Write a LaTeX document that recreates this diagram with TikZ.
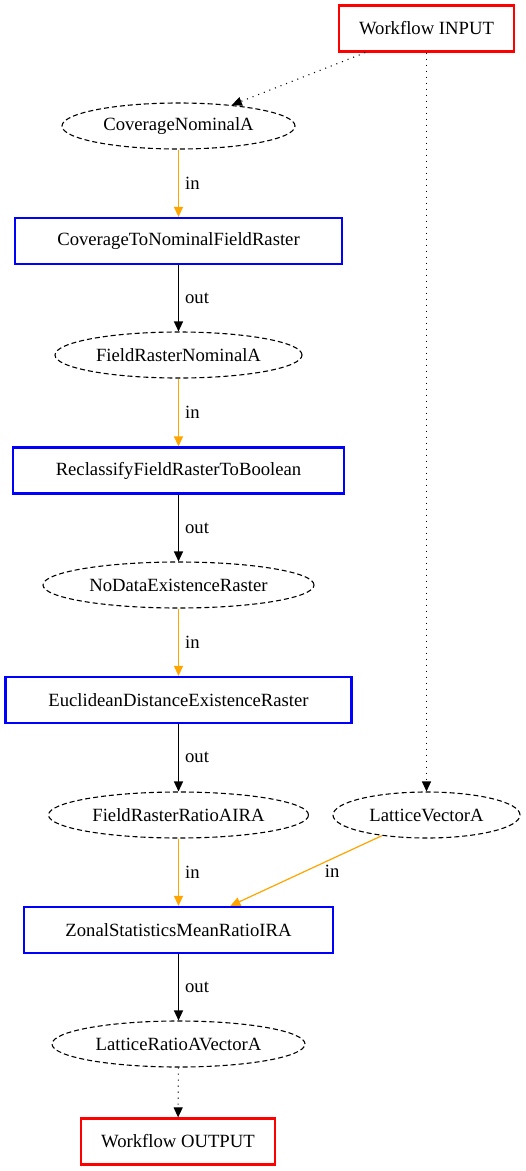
\documentclass[tikz,border=0pt]{standalone}
\usepackage{fontspec}
\setmainfont{Liberation Serif}
\usetikzlibrary{arrows.meta,shapes.geometric}
\definecolor{flowred}{RGB}{255,0,0}
\definecolor{stepblue}{RGB}{0,0,255}
\definecolor{inorange}{RGB}{255,165,0}
\tikzset{
  txt/.style={font=\fontsize{18.67}{22}\selectfont, inner sep=0pt},
  iobox/.style={txt, draw=flowred, line width=2.2pt, rectangle, minimum height=46pt},
  stepbox/.style={txt, draw=stepblue, line width=2.2pt, rectangle, minimum height=46pt},
  datanode/.style={txt, draw=black, line width=1.1pt, ellipse, dash pattern=on 5pt off 3pt, minimum height=46pt},
  tip/.style={-{Triangle[length=10pt,width=9pt]}},
  flowin/.style={tip, draw=inorange, fill=inorange, line width=1.2pt},
  flowout/.style={tip, draw=black, line width=1.2pt},
  ioflow/.style={tip, draw=black, line width=1.1pt, dash pattern=on 1pt off 5pt},
  lbl/.style={txt, anchor=west, xshift=6pt}
}
\begin{document}
\begin{tikzpicture}[x=1pt,y=-1pt]
\useasboundingbox (0,0) rectangle (526,1171);

% nodes
\node[iobox, minimum width=175pt] (input) at (426.5,28.5) {Workflow INPUT};
\node[datanode, minimum width=233pt] (cna) at (178.5,126) {CoverageNominalA};
\node[stepbox, minimum width=327pt] (ctnfr) at (178.5,241) {CoverageToNominalFieldRaster};
\node[datanode, minimum width=247pt] (frna) at (178.5,355) {FieldRasterNominalA};
\node[stepbox, minimum width=331pt] (rfrtb) at (178.5,470.5) {ReclassifyFieldRasterToBoolean};
\node[datanode, minimum width=271pt] (nder) at (178.5,585) {NoDataExistenceRaster};
\node[stepbox, minimum width=346pt] (eder) at (178.5,700) {EuclideanDistanceExistenceRaster};
\node[datanode, minimum width=260pt] (frra) at (178.5,815) {FieldRasterRatioAIRA};
\node[datanode, minimum width=187pt] (lva) at (426.5,815) {LatticeVectorA};
\node[stepbox, minimum width=309pt] (zsmr) at (178.5,930) {ZonalStatisticsMeanRatioIRA};
\node[datanode, minimum width=253pt] (lrav) at (178.5,1044) {LatticeRatioAVectorA};
\node[iobox, minimum width=194pt] (output) at (178,1141.5) {Workflow OUTPUT};

% connectors
\draw[ioflow] (input) -- (cna);
\draw[ioflow] (input) -- (lva);
\draw[flowin] (cna) -- node[lbl] {in} (ctnfr);
\draw[flowout] (ctnfr) -- node[lbl] {out} (frna);
\draw[flowin] (frna) -- node[lbl] {in} (rfrtb);
\draw[flowout] (rfrtb) -- node[lbl] {out} (nder);
\draw[flowin] (nder) -- node[lbl] {in} (eder);
\draw[flowout] (eder) -- node[lbl] {out} (frra);
\draw[flowin] (frra) -- node[lbl] {in} (zsmr);
\draw[flowin] (lva) -- node[txt, xshift=26pt] {in} (zsmr);
\draw[flowout] (zsmr) -- node[lbl] {out} (lrav);
\draw[ioflow] (lrav) -- (output);
\end{tikzpicture}
\end{document}
